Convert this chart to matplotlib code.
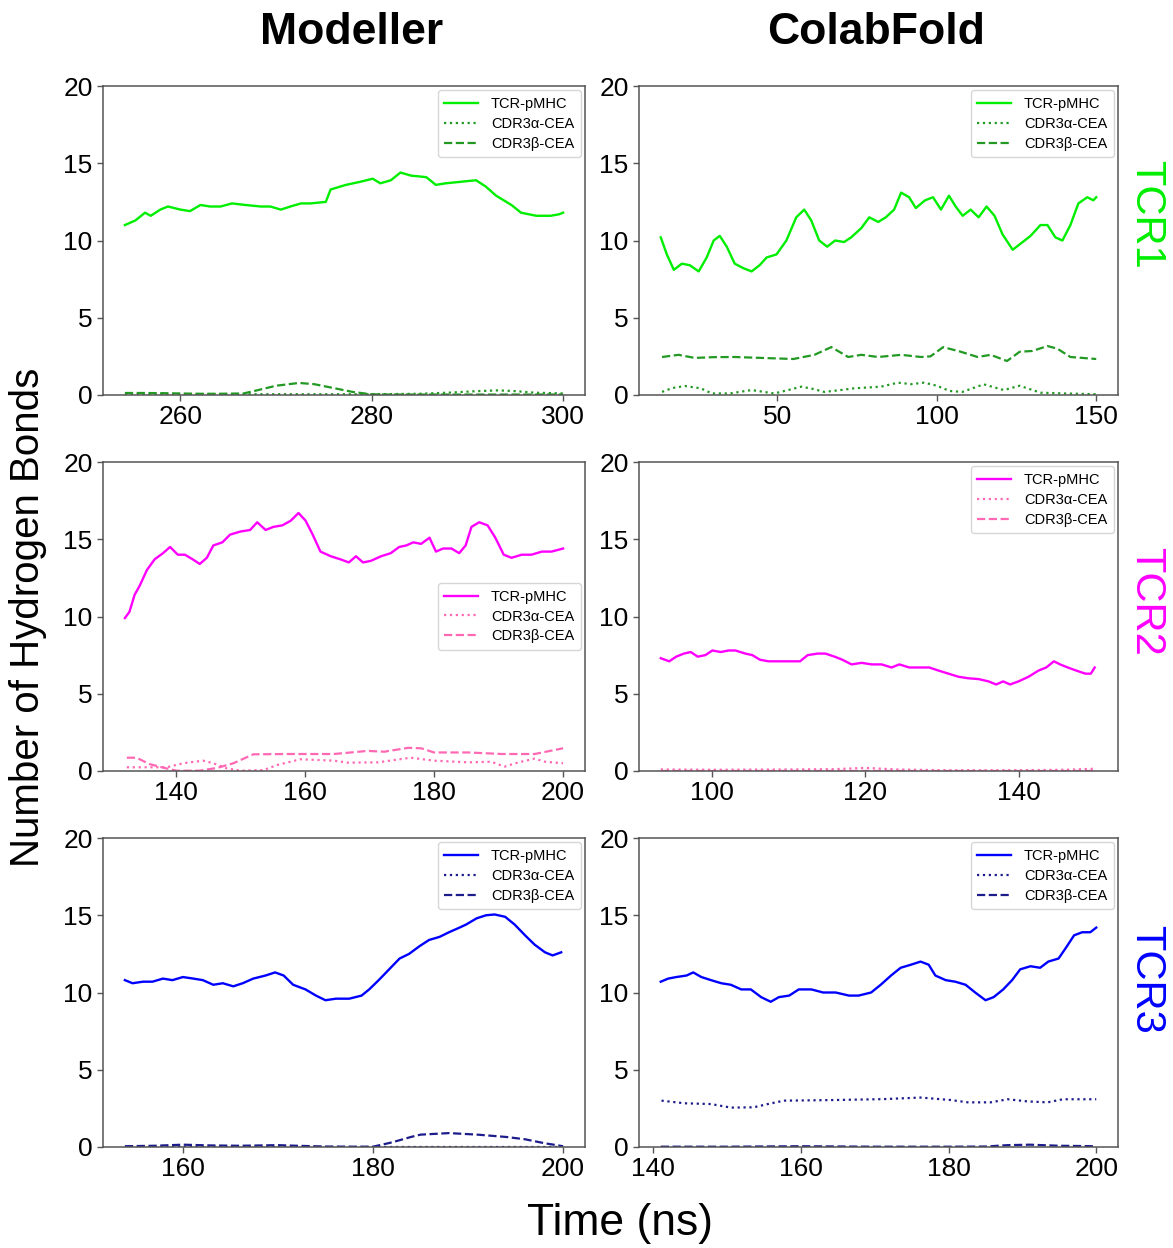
import matplotlib
matplotlib.use("Agg")
import matplotlib.pyplot as plt

plt.rcParams["font.family"] = ["Liberation Sans", "DejaVu Sans"]
plt.rcParams["axes.edgecolor"] = "#555555"
plt.rcParams["xtick.color"] = "#555555"
plt.rcParams["ytick.color"] = "#555555"
plt.rcParams["xtick.labelcolor"] = "black"
plt.rcParams["ytick.labelcolor"] = "black"

column_titles = ["Modeller", "ColabFold"]
row_labels = ["TCR1", "TCR2", "TCR3"]
series_names = ["TCR-pMHC", "CDR3\u03b1-CEA", "CDR3\u03b2-CEA"]
y_ticks = [0, 5, 10, 15, 20]

# --- Modeller / TCR1 ---
t_m1 = [254.2, 255.3, 256.3, 256.9, 257.9, 258.7, 260.0, 261.0, 262.1, 263.1, 264.2, 265.4, 266.8, 268.4,
        269.4, 270.5, 271.5, 272.6, 273.6, 275.2, 275.7, 277.3, 278.8, 280.1, 280.9, 282.0, 283.0, 284.1,
        285.7, 286.7, 287.7, 289.3, 290.9, 291.9, 293.0, 294.6, 295.6, 297.2, 298.7, 299.6, 300.0]
hb_m1 = [11.0, 11.3, 11.8, 11.6, 12.0, 12.2, 12.0, 11.9, 12.3, 12.2, 12.2, 12.4, 12.3, 12.2, 12.2, 12.0,
         12.2, 12.4, 12.4, 12.5, 13.3, 13.6, 13.8, 14.0, 13.7, 13.9, 14.4, 14.2, 14.1, 13.6, 13.7, 13.8,
         13.9, 13.5, 12.9, 12.3, 11.8, 11.6, 11.6, 11.7, 11.8]
t_m1_a = [254.2, 260, 266, 272, 278, 282, 285, 288, 291, 293.2, 295, 297, 300]
hb_m1_a = [0.05, 0.05, 0.05, 0.05, 0.05, 0.06, 0.08, 0.15, 0.25, 0.3, 0.25, 0.15, 0.1]
t_m1_b = [254.2, 256, 258, 260, 262, 264, 266.6, 268, 270, 272.4, 274, 276, 278, 279.9, 282, 286, 290,
          294, 298, 300]
hb_m1_b = [0.13, 0.13, 0.12, 0.1, 0.08, 0.08, 0.1, 0.3, 0.6, 0.78, 0.7, 0.45, 0.2, 0.05, 0.03, 0.03,
           0.03, 0.03, 0.03, 0.03]

# --- ColabFold / TCR1 ---
t_c1 = [13.4, 15.3, 17.5, 20.0, 22.5, 25.3, 27.8, 30.0, 31.9, 34.1, 36.6, 39.4, 41.9, 44.4, 46.6, 49.7,
        52.8, 55.9, 58.4, 60.6, 63.1, 65.6, 68.1, 70.9, 73.1, 76.3, 78.8, 81.6, 84.0, 86.6, 88.8, 91.3,
        93.4, 96.3, 98.8, 101.3, 103.8, 105.9, 108.1, 110.6, 113.1, 115.6, 118.1, 120.6, 123.8, 126.3,
        129.4, 132.5, 134.7, 137.2, 139.4, 141.9, 144.4, 147.2, 149.1, 150.0]
hb_c1 = [10.2, 9.1, 8.1, 8.5, 8.4, 8.0, 8.9, 10.0, 10.3, 9.6, 8.5, 8.2, 8.0, 8.4, 8.9, 9.1, 10.0, 11.5,
         12.0, 11.3, 10.0, 9.6, 10.0, 9.9, 10.2, 10.8, 11.5, 11.2, 11.5, 12.0, 13.1, 12.8, 12.1, 12.6,
         12.8, 12.0, 12.9, 12.2, 11.6, 12.0, 11.5, 12.2, 11.6, 10.4, 9.4, 9.8, 10.3, 11.0, 11.0, 10.2,
         10.0, 11.0, 12.4, 12.8, 12.6, 12.8]
t_c1_a = [13.8, 17, 21, 26, 29.4, 35, 41.9, 49, 53, 57.5, 61, 64.7, 69, 74, 82.5, 87.8, 92, 96, 100, 104,
          108, 114.7, 121, 126, 132.5, 140, 150]
hb_c1_a = [0.2, 0.45, 0.58, 0.43, 0.1, 0.1, 0.32, 0.1, 0.3, 0.54, 0.4, 0.2, 0.3, 0.43, 0.54, 0.8, 0.7,
           0.8, 0.6, 0.26, 0.2, 0.69, 0.32, 0.6, 0.15, 0.1, 0.05]
t_c1_b = [13.8, 19, 24, 30, 36.6, 45, 55, 61.6, 66.9, 72.2, 76.3, 81.6, 88.8, 95, 98, 102, 107.5, 112.8,
          116.9, 122, 126, 130, 134.7, 137.8, 141.9, 150]
hb_c1_b = [2.46, 2.6, 2.4, 2.45, 2.46, 2.4, 2.33, 2.6, 3.1, 2.46, 2.6, 2.46, 2.6, 2.46, 2.5, 3.1, 2.8,
           2.46, 2.6, 2.2, 2.8, 2.85, 3.17, 3.0, 2.46, 2.33]

# --- Modeller / TCR2 ---
t_m2 = [132.1, 132.8, 133.6, 134.4, 135.5, 136.7, 138.0, 139.1, 140.3, 141.4, 142.6, 143.7, 144.8, 145.8,
        147.2, 148.4, 150.0, 151.5, 152.6, 153.9, 155.1, 156.5, 157.8, 159.0, 160.1, 161.2, 162.4, 164.0,
        165.5, 166.8, 167.9, 169.0, 170.2, 171.8, 173.3, 174.6, 175.7, 176.8, 178.0, 179.3, 180.3, 181.4,
        182.7, 183.9, 184.9, 185.8, 187.0, 188.3, 189.5, 190.8, 192.0, 193.6, 195.1, 196.7, 198.2, 200.0]
hb_m2 = [9.9, 10.3, 11.4, 12.0, 13.0, 13.7, 14.1, 14.5, 14.0, 14.0, 13.7, 13.4, 13.8, 14.6, 14.8, 15.3,
         15.5, 15.6, 16.1, 15.6, 15.8, 15.9, 16.2, 16.7, 16.2, 15.3, 14.2, 13.9, 13.7, 13.5, 13.9, 13.5,
         13.6, 13.9, 14.1, 14.5, 14.6, 14.8, 14.7, 15.1, 14.2, 14.4, 14.4, 14.1, 14.6, 15.8, 16.1, 15.9,
         15.1, 14.0, 13.8, 14.0, 14.0, 14.2, 14.2, 14.4]
t_m2_a = [132.4, 135.9, 138.6, 141.1, 144.2, 145.8, 147.9, 150, 153.6, 155.7, 159.3, 164.5, 166.6, 171.3,
          176.4, 180, 185.3, 188.9, 190.9, 193.1, 195.6, 197.2, 200]
hb_m2_a = [0.24, 0.24, 0.24, 0.5, 0.67, 0.5, 0.17, 0.02, 0.06, 0.39, 0.76, 0.67, 0.54, 0.56, 0.86, 0.67,
           0.56, 0.6, 0.28, 0.56, 0.8, 0.6, 0.5]
t_m2_b = [132.4, 133.9, 135.9, 138, 140.1, 143.7, 146.4, 148.9, 152, 157.3, 164.5, 169.7, 172.3, 176, 178,
          180, 185.3, 190.5, 195.6, 200]
hb_m2_b = [0.86, 0.86, 0.45, 0.22, 0.02, 0.02, 0.2, 0.5, 1.08, 1.1, 1.1, 1.3, 1.25, 1.5, 1.47, 1.2, 1.2,
           1.1, 1.1, 1.47]

# --- ColabFold / TCR2 ---
t_c2 = [93.4, 94.5, 95.4, 96.4, 97.3, 98.2, 99.2, 100.1, 101.2, 102.2, 103.1, 104.4, 105.3, 106.3, 107.4,
        108.9, 110.2, 111.5, 112.5, 113.8, 114.8, 116.0, 117.0, 118.2, 119.5, 120.8, 122.1, 123.4, 124.4,
        125.7, 127.0, 128.3, 129.5, 130.8, 132.1, 133.4, 134.7, 136.0, 137.0, 137.9, 138.8, 139.9, 141.2,
        142.5, 143.5, 144.5, 145.3, 146.3, 147.4, 148.6, 149.3, 149.8]
hb_c2 = [7.3, 7.1, 7.4, 7.6, 7.7, 7.4, 7.5, 7.8, 7.7, 7.8, 7.8, 7.6, 7.5, 7.2, 7.1, 7.1, 7.1, 7.1, 7.5,
         7.6, 7.6, 7.4, 7.2, 6.9, 7.0, 6.9, 6.9, 6.7, 6.9, 6.7, 6.7, 6.7, 6.5, 6.3, 6.1, 6.0, 5.95, 5.8,
         5.6, 5.8, 5.6, 5.8, 6.1, 6.5, 6.7, 7.1, 6.9, 6.7, 6.5, 6.3, 6.3, 6.7]
t_c2_a = [93.4, 100, 110, 116, 120, 124, 130, 140, 146, 150]
hb_c2_a = [0.1, 0.08, 0.1, 0.12, 0.2, 0.1, 0.05, 0.05, 0.08, 0.15]
t_c2_b = [93.4, 110, 130, 150]
hb_c2_b = [0.03, 0.03, 0.03, 0.03]

# --- Modeller / TCR3 ---
t_m3 = [153.9, 154.7, 155.8, 156.8, 157.9, 158.9, 160.0, 161.1, 162.1, 163.2, 164.2, 165.3, 166.3, 167.4,
        168.7, 169.7, 170.6, 171.6, 172.9, 174.0, 175.0, 176.1, 177.5, 178.8, 179.6, 180.6, 181.7, 182.8,
        183.8, 184.9, 185.9, 187.0, 188.0, 189.1, 189.8, 190.9, 191.9, 192.8, 193.9, 194.9, 196.0, 197.0,
        198.1, 198.9, 199.8]
hb_m3 = [10.8, 10.6, 10.7, 10.7, 10.9, 10.8, 11.0, 10.9, 10.8, 10.5, 10.6, 10.4, 10.6, 10.9, 11.1, 11.3,
         11.1, 10.5, 10.2, 9.8, 9.5, 9.6, 9.6, 9.8, 10.2, 10.8, 11.5, 12.2, 12.5, 13.0, 13.4, 13.6, 13.9,
         14.2, 14.4, 14.8, 15.0, 15.05, 14.9, 14.4, 13.7, 13.1, 12.6, 12.4, 12.6]
t_m3_a = [153.9, 170, 185, 200]
hb_m3_a = [0.02, 0.02, 0.02, 0.02]
t_m3_b = [153.9, 157, 160, 163, 166, 170, 172, 175, 178, 180, 182, 184, 185, 188, 191, 194, 196, 198, 200]
hb_m3_b = [0.05, 0.08, 0.15, 0.1, 0.08, 0.12, 0.08, 0.03, 0.02, 0.02, 0.3, 0.65, 0.8, 0.9, 0.8, 0.65,
           0.5, 0.25, 0.05]

# --- ColabFold / TCR3 ---
t_c3 = [141.0, 142.0, 143.1, 144.5, 145.4, 146.5, 147.8, 149.2, 150.5, 151.9, 153.2, 154.6, 155.9, 157.0,
        158.4, 159.7, 161.4, 163.0, 164.7, 166.5, 167.8, 169.5, 170.8, 172.2, 173.5, 174.9, 176.2, 177.3,
        178.2, 179.6, 180.9, 182.3, 183.6, 185.0, 186.1, 187.4, 188.6, 189.7, 191.1, 192.4, 193.5, 194.9,
        195.9, 197.0, 198.1, 199.2, 200.0]
hb_c3 = [10.7, 10.9, 11.0, 11.1, 11.3, 11.0, 10.8, 10.6, 10.5, 10.2, 10.2, 9.7, 9.4, 9.7, 9.8, 10.2,
         10.2, 10.0, 10.0, 9.8, 9.8, 10.0, 10.5, 11.1, 11.6, 11.8, 12.0, 11.8, 11.1, 10.8, 10.7, 10.5,
         10.0, 9.5, 9.7, 10.2, 10.8, 11.5, 11.7, 11.6, 12.0, 12.2, 12.9, 13.7, 13.9, 13.9, 14.2]
t_c3_a = [141.1, 144.2, 147.8, 150.5, 153.6, 155.5, 157.7, 164.5, 171.2, 176.2, 180.3, 182.6, 185.7, 188,
          190.7, 193.4, 195.5, 200]
hb_c3_a = [3.0, 2.83, 2.78, 2.55, 2.57, 2.78, 3.0, 3.04, 3.1, 3.2, 3.04, 2.89, 2.89, 3.09, 2.95, 2.89,
           3.09, 3.09]
t_c3_b = [141, 150, 160, 170, 180, 185, 188, 191, 195, 200]
hb_c3_b = [0.02, 0.02, 0.05, 0.02, 0.02, 0.03, 0.12, 0.15, 0.08, 0.05]

x_ticks = [
    [[260, 280, 300], [50, 100, 150]],
    [[140, 160, 180, 200], [100, 120, 140]],
    [[160, 180, 200], [140, 160, 180, 200]],
]

panels = [
    [(t_m1, hb_m1, t_m1_a, hb_m1_a, t_m1_b, hb_m1_b), (t_c1, hb_c1, t_c1_a, hb_c1_a, t_c1_b, hb_c1_b)],
    [(t_m2, hb_m2, t_m2_a, hb_m2_a, t_m2_b, hb_m2_b), (t_c2, hb_c2, t_c2_a, hb_c2_a, t_c2_b, hb_c2_b)],
    [(t_m3, hb_m3, t_m3_a, hb_m3_a, t_m3_b, hb_m3_b), (t_c3, hb_c3, t_c3_a, hb_c3_a, t_c3_b, hb_c3_b)],
]

main_colors = ["#00ee00", "#ff00ff", "#0000ff"]
sub_colors = ["#229922", "#ff69b4", "#1c1c8c"]
legend_locs = [["upper right", "upper right"], ["center right", "upper right"], ["upper right", "upper right"]]
row_label_y = [0.828, 0.518, 0.215]

W, H = 1173, 1248
fig = plt.figure(figsize=(W / 100, H / 100), dpi=100)

col_x = [(103, 482), (639, 479)]
row_y = [(86, 395), (462, 771), (838, 1147)]
title_x = [352, 876]

for r in range(3):
    for c in range(2):
        x0, w = col_x[c]
        top, bot = row_y[r]
        ax = fig.add_axes([x0 / W, 1 - bot / H, w / W, (bot - top) / H])
        t, v, ta, va, tb, vb = panels[r][c]
        ax.plot(t, v, color=main_colors[r], lw=1.7, label=series_names[0])
        ax.plot(ta, va, color=sub_colors[r], lw=1.6, ls=":", label=series_names[1])
        ax.plot(tb, vb, color=sub_colors[r], lw=1.6, ls="--", label=series_names[2])
        ax.set_ylim(0, 20)
        ax.set_yticks(y_ticks)
        ax.set_xticks(x_ticks[r][c])
        ax.tick_params(labelsize=19, width=1.0, length=4)
        for s in ax.spines.values():
            s.set_linewidth(1.1)
        ax.legend(loc=legend_locs[r][c], fontsize=10.5, handlelength=2.3, labelspacing=0.4,
                  borderpad=0.45, handletextpad=0.9, borderaxespad=0.3)

for c in range(2):
    fig.text(title_x[c] / W, 1 - 32 / H, column_titles[c], ha="center", va="center",
             fontsize=32, fontweight="bold")

for r in range(3):
    fig.text(1146 / W, row_label_y[r], row_labels[r], ha="center", va="center",
             rotation=-90, fontsize=30, color=main_colors[r])

fig.text(28 / W, 1 - 617 / H, "Number of Hydrogen Bonds", rotation=90, ha="center", va="center",
         fontsize=29)
fig.text(620 / W, 1 - 1223 / H, "Time (ns)", ha="center", va="center", fontsize=32)

fig.savefig("out.png", dpi=100)
